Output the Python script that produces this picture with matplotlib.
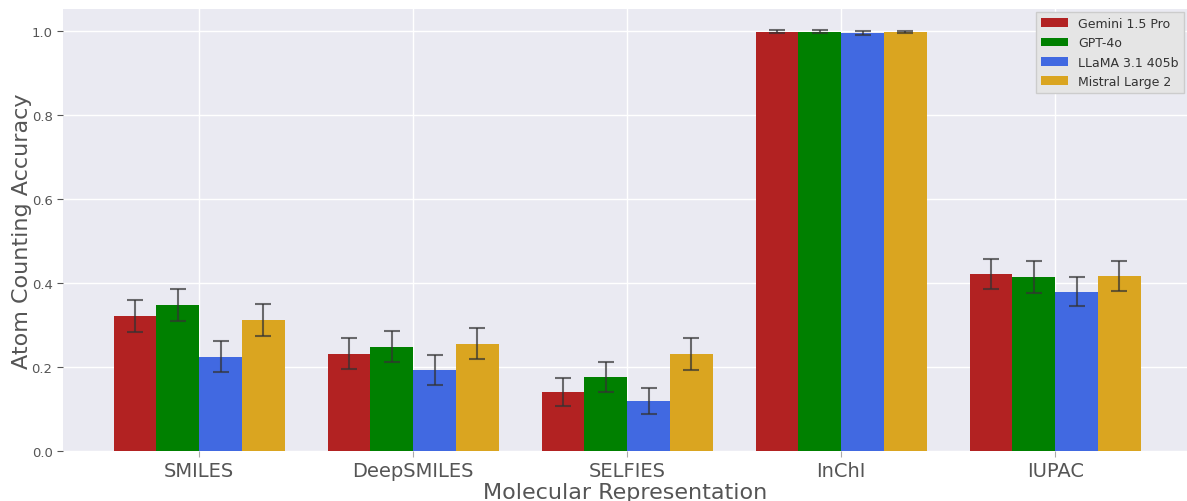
import matplotlib
matplotlib.use("Agg")
import matplotlib.pyplot as plt
import numpy as np

categories = ["SMILES", "DeepSMILES", "SELFIES", "InChI", "IUPAC"]
models = ["Gemini 1.5 Pro", "GPT-4o", "LLaMA 3.1 405b", "Mistral Large 2"]
colors = ["#B22222", "#008000", "#4169E1", "#DAA520"]

gemini = [0.321, 0.231, 0.140, 0.998, 0.421]
gpt4o = [0.348, 0.248, 0.176, 0.998, 0.414]
llama = [0.224, 0.193, 0.119, 0.995, 0.379]
mistral = [0.312, 0.255, 0.231, 0.997, 0.417]

gemini_err = [0.038, 0.037, 0.033, 0.003, 0.036]
gpt4o_err = [0.038, 0.037, 0.036, 0.003, 0.038]
llama_err = [0.037, 0.035, 0.032, 0.004, 0.034]
mistral_err = [0.038, 0.037, 0.038, 0.003, 0.036]

values = [gemini, gpt4o, llama, mistral]
errors = [gemini_err, gpt4o_err, llama_err, mistral_err]

fig = plt.figure(figsize=(11.87, 5.02), dpi=100)
ax = fig.add_axes([63/1187, 1-452/502, 1-63/1187, (452-10)/502])
ax.set_facecolor("#EAEAF2")
for s in ax.spines.values():
    s.set_visible(False)
ax.grid(True, color="white", linewidth=1.0)
ax.set_axisbelow(True)

x = np.arange(len(categories))
w = 0.2
for i, (vals, errs, m, c) in enumerate(zip(values, errors, models, colors)):
    ax.bar(x + (i - 1.5) * w, vals, w, color=c, label=m,
           yerr=errs, capsize=6,
           error_kw=dict(ecolor="#333333", elinewidth=1.5, capthick=1.5, alpha=0.7))

ax.set_xticks(x)
ax.set_xticklabels(categories, fontsize=14, color="#555555")
ax.set_yticks([0.0, 0.2, 0.4, 0.6, 0.8, 1.0])
ax.set_yticklabels(["0.0", "0.2", "0.4", "0.6", "0.8", "1.0"])
ax.tick_params(axis="y", labelsize=9.5, colors="#555555", length=4, color="#555555")
ax.tick_params(axis="x", colors="#555555", length=4, color="#aaaaaa")
ax.set_xlim(-0.636, 4.616)
ax.set_ylim(0, 1.052)
ax.set_xlabel("Molecular Representation", fontsize=16, color="#555555", labelpad=1)
ax.set_ylabel("Atom Counting Accuracy", fontsize=16, color="#555555", labelpad=0)

leg = ax.legend(loc="upper right", fontsize=9, frameon=True, fancybox=False,
                facecolor="#E5E5E5", edgecolor="#CCCCCC", framealpha=1.0,
                borderaxespad=0.25, handlelength=2.2)
for t in leg.get_texts():
    t.set_color("#333333")

fig.savefig("out.png", dpi=100)
